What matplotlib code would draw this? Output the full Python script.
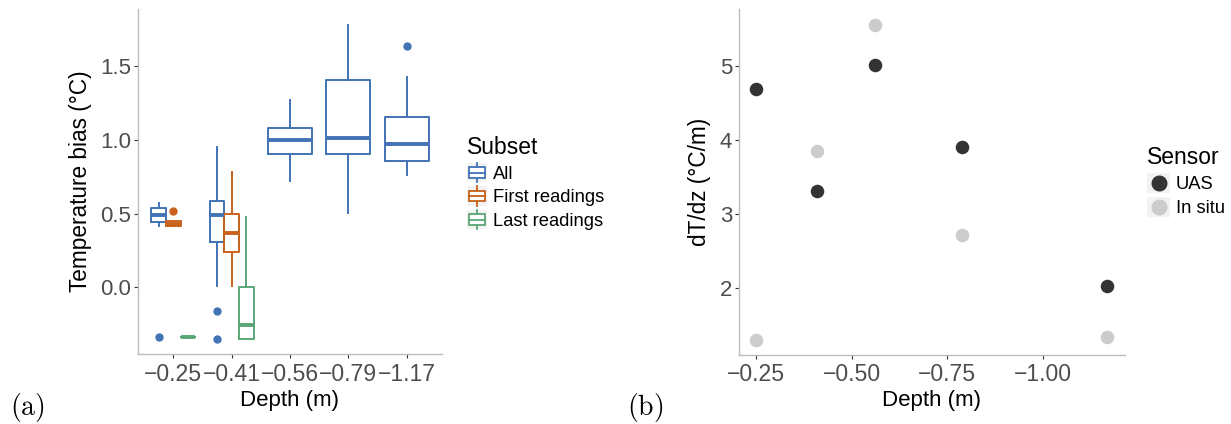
import matplotlib
matplotlib.use("Agg")
import matplotlib.pyplot as plt
from matplotlib.legend_handler import HandlerBase
from matplotlib.patches import Rectangle
from matplotlib.lines import Line2D


plt.rcParams["font.family"] = ["Liberation Sans", "DejaVu Sans"]
plt.rcParams["mathtext.fontset"] = "cm"

# panel (a): temperature bias by depth
depth_labels = ["\u22120.25", "\u22120.41", "\u22120.56", "\u22120.79", "\u22121.17"]
subsets = ["All", "First readings", "Last readings"]
subset_colors = ["#4273B6", "#C8621C", "#5BA676"]

all_lo = [0.414, 0.013, 0.723, 0.505, 0.761]
all_q1 = [0.440, 0.306, 0.905, 0.907, 0.856]
all_med = [0.493, 0.493, 0.998, 1.011, 0.971]
all_q3 = [0.536, 0.588, 1.083, 1.405, 1.157]
all_hi = [0.572, 0.953, 1.270, 1.780, 1.426]
all_out = [[-0.336], [-0.162, -0.347], [], [], [1.633]]

# first / last readings only exist for the two shallowest depths
first_lo = [0.414, 0.013]
first_q1 = [0.414, 0.243]
first_med = [0.432, 0.367]
first_q3 = [0.450, 0.497]
first_hi = [0.450, 0.779]
first_out = [[0.520], []]

last_lo = [-0.336, -0.347]
last_q1 = [-0.336, -0.347]
last_med = [-0.336, -0.253]
last_q3 = [-0.336, 0.000]
last_hi = [-0.336, 0.480]
last_out = [[], []]

# panel (b): gradient by depth
grad_depth = [-0.25, -0.41, -0.56, -0.79, -1.17]
uas_grad = [4.69, 3.31, 5.01, 3.91, 2.03]
insitu_grad = [1.30, 3.85, 5.56, 2.71, 1.33]
sensors = ["UAS", "In situ"]
sensor_colors = ["#333333", "#CCCCCC"]

TICK_COLOR = "#4D4D4D"
AXIS_COLOR = "#BDBDBD"
KEY_BG = "#F2F2F2"


def make_stats(lo, q1, med, q3, hi, out):
    stats = []
    for i in range(len(med)):
        stats.append({"whislo": lo[i], "q1": q1[i], "med": med[i],
                      "q3": q3[i], "whishi": hi[i], "fliers": out[i]})
    return stats


def style_axes(ax):
    for side in ["top", "right"]:
        ax.spines[side].set_visible(False)
    for side in ["left", "bottom"]:
        ax.spines[side].set_color(AXIS_COLOR)
        ax.spines[side].set_linewidth(1.0)
    ax.tick_params(length=3, width=0.8, color="#333333",
                   labelcolor=TICK_COLOR, labelsize=16, pad=2)
    ax.tick_params(axis="x", labelsize=16.6, pad=3)


class BoxKey(HandlerBase):
    def create_artists(self, legend, orig_handle, xdescent, ydescent,
                       width, height, fontsize, trans):
        c = orig_handle.get_color()
        x0, y0 = -xdescent, -ydescent
        bg = Rectangle((x0, y0), width, height, fc=KEY_BG, ec="none", transform=trans)
        box = Rectangle((x0 + width * 0.1, y0 + height * 0.22), width * 0.8,
                        height * 0.56, fc="white", ec=c, lw=1.3, transform=trans)
        med = Line2D([x0 + width * 0.1, x0 + width * 0.9], [y0 + height * 0.5] * 2,
                     color=c, lw=1.3, transform=trans)
        wu = Line2D([x0 + width / 2] * 2, [y0 + height * 0.78, y0 + height],
                    color=c, lw=1.3, transform=trans)
        wd = Line2D([x0 + width / 2] * 2, [y0, y0 + height * 0.22],
                    color=c, lw=1.3, transform=trans)
        return [bg, box, med, wu, wd]


class DotKey(HandlerBase):
    def create_artists(self, legend, orig_handle, xdescent, ydescent,
                       width, height, fontsize, trans):
        c = orig_handle.get_color()
        x0, y0 = -xdescent, -ydescent
        bg = Rectangle((x0, y0), width, height, fc=KEY_BG, ec="none", transform=trans)
        dot = Line2D([x0 + width / 2], [y0 + height / 2], marker="o", ms=10.5,
                     color=c, ls="none", transform=trans)
        return [bg, dot]


fig = plt.figure(figsize=(12.31, 4.24), dpi=100)

# ---- (a) boxplots ----
ax1 = fig.add_axes([138.3 / 1231, 1 - 354.3 / 424, 303.4 / 1231, 345.3 / 424])

groups = [
    (make_stats(all_lo, all_q1, all_med, all_q3, all_hi, all_out), subset_colors[0], -0.25),
    (make_stats(first_lo, first_q1, first_med, first_q3, first_hi, first_out), subset_colors[1], 0.0),
    (make_stats(last_lo, last_q1, last_med, last_q3, last_hi, last_out), subset_colors[2], 0.25),
]
n_sub = [3 if i < len(first_med) else 1 for i in range(len(depth_labels))]

for stats, color, offset in groups:
    positions = []
    widths = []
    for i in range(len(stats)):
        if n_sub[i] == 3:
            positions.append(i + 1 + offset)
            widths.append(0.25)
        else:
            positions.append(i + 1)
            widths.append(0.75)
    ax1.bxp(stats, positions=positions, widths=widths, showcaps=False,
            boxprops=dict(color=color, lw=1.4),
            whiskerprops=dict(color=color, lw=1.4),
            medianprops=dict(color=color, lw=2.8, solid_capstyle="butt"),
            flierprops=dict(marker="o", markerfacecolor=color, markeredgecolor=color,
                            markersize=5, ls="none"),
            manage_ticks=False)

ax1.set_xlim(0.4, len(depth_labels) + 0.6)
ax1.set_ylim(-0.453, 1.886)
ax1.set_xticks(range(1, len(depth_labels) + 1))
ax1.set_xticklabels(depth_labels)
ax1.set_yticks([0.0, 0.5, 1.0, 1.5])
ax1.set_yticklabels(["0.0", "0.5", "1.0", "1.5"])
style_axes(ax1)
ax1.set_xlabel("Depth (m)", fontsize=16, labelpad=3)
ax1.set_ylabel("Temperature bias (\u00b0C)", fontsize=16.3, labelpad=6)

handles1 = [Line2D([], [], color=c) for c in subset_colors]
leg1 = fig.legend(handles1, subsets, loc="upper left",
                  bbox_to_anchor=(458 / 1231, 1 - 127 / 424), frameon=False,
                  title="Subset", title_fontsize=16.5, fontsize=13.2,
                  handler_map={Line2D: BoxKey()}, handlelength=1.1, handleheight=1.25,
                  handletextpad=0.3, labelspacing=0.2, borderpad=0, alignment="left")

# ---- (b) gradients ----
ax2 = fig.add_axes([739 / 1231, 1 - 354.7 / 424, 386 / 1231, 345.7 / 424])
ax2.scatter(grad_depth, uas_grad, s=95, color=sensor_colors[0], zorder=3, linewidths=0)
ax2.scatter(grad_depth, insitu_grad, s=95, color=sensor_colors[1], zorder=3, linewidths=0)
ax2.set_xlim(-0.2047, -1.216)
ax2.set_ylim(1.095, 5.77)
ax2.set_xticks([-0.25, -0.50, -0.75, -1.00])
ax2.set_xticklabels(["\u22120.25", "\u22120.50", "\u22120.75", "\u22121.00"])
ax2.set_yticks([2, 3, 4, 5])
style_axes(ax2)
ax2.set_xlabel("Depth (m)", fontsize=16, labelpad=3)
ax2.set_ylabel("dT/dz (\u00b0C/m)", fontsize=16.3, labelpad=6)

handles2 = [Line2D([], [], color=c) for c in sensor_colors]
leg2 = fig.legend(handles2, sensors, loc="upper left",
                  bbox_to_anchor=(1138 / 1231, 1 - 137 / 424), frameon=False,
                  title="Sensor", title_fontsize=16.5, fontsize=13.2,
                  handler_map={Line2D: DotKey()}, handlelength=1.25, handleheight=1.3,
                  handletextpad=0.3, labelspacing=0.2, borderpad=0, alignment="left")

fig.text(10 / 1231, 1 - 407 / 424, r"$\mathrm{(a)}$", fontsize=20, va="center", ha="left")
fig.text(627 / 1231, 1 - 407 / 424, r"$\mathrm{(b)}$", fontsize=20, va="center", ha="left")

fig.savefig("out.png", dpi=100)
